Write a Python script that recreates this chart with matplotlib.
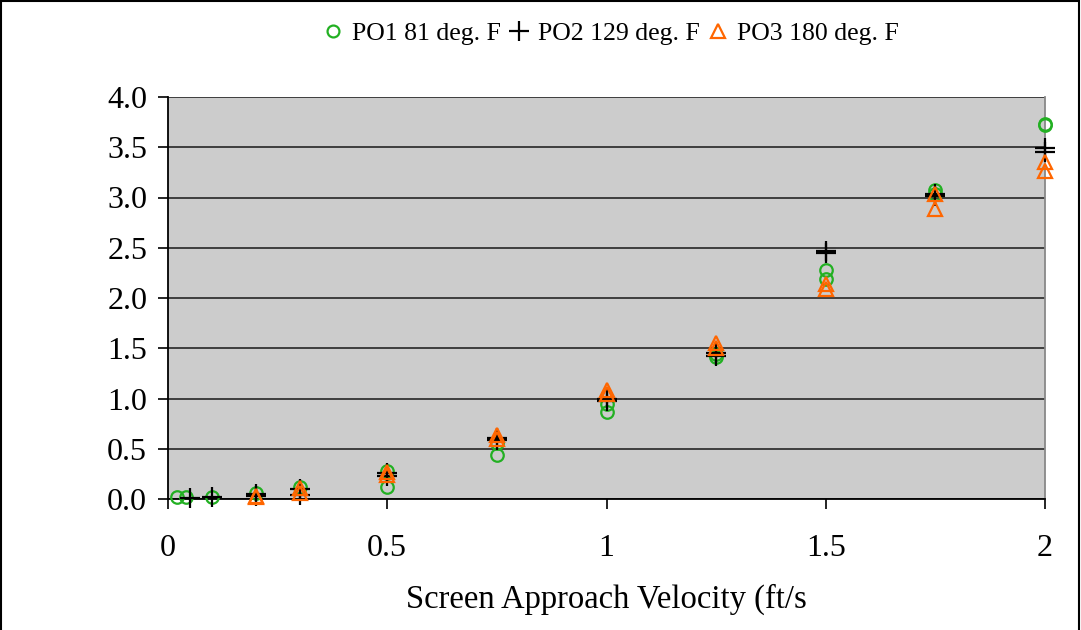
import matplotlib.pyplot as plt
from matplotlib.patches import Rectangle

# values (two replicates per velocity)
po1_x = [0.02, 0.04, 0.1, 0.2, 0.3, 0.5, 0.5, 0.75, 0.75, 1.0, 1.0, 1.25, 1.25, 1.5, 1.5, 1.75, 1.75, 2.0, 2.0]
po1_y = [0.02, 0.02, 0.02, 0.06, 0.12, 0.28, 0.12, 0.56, 0.44, 0.95, 0.87, 1.41, 1.44, 2.28, 2.19, 3.07, 3.03, 3.73, 3.72]

po2_x = [0.05, 0.1, 0.2, 0.2, 0.3, 0.3, 0.5, 0.5, 0.75, 0.75, 1.0, 1.0, 1.25, 1.25, 1.5, 1.5, 1.75, 1.75, 2.0, 2.0]
po2_y = [0.01, 0.02, 0.05, 0.03, 0.1, 0.04, 0.26, 0.23, 0.61, 0.59, 1.0, 0.98, 1.45, 1.42, 2.47, 2.45, 3.03, 3.01, 3.49, 3.45]

po3_x = [0.2, 0.2, 0.3, 0.3, 0.5, 0.5, 0.75, 0.75, 1.0, 1.0, 1.25, 1.25, 1.5, 1.5, 1.75, 1.75, 2.0, 2.0]
po3_y = [0.02, 0.03, 0.11, 0.06, 0.27, 0.24, 0.64, 0.6, 1.08, 1.04, 1.55, 1.5, 2.14, 2.09, 3.03, 2.89, 3.35, 3.26]

labels = ["PO1 81 deg. F", "PO2 129 deg. F", "PO3 180 deg. F"]

plt.rcParams['font.family'] = ['Liberation Serif', 'DejaVu Serif']

fig = plt.figure(figsize=(10.81, 6.30), dpi=100)
ax = fig.add_axes([168 / 1081, 1 - 499 / 630, (1045 - 168) / 1081, (499 - 97) / 630])
ax.set_facecolor('#CCCCCC')

ax.plot(po1_x, po1_y, 'o', ms=9, mfc='none', mec='#22B022', mew=1.6, label=labels[0], clip_on=False, zorder=3)
ax.plot(po2_x, po2_y, '+', ms=15, mec='black', mew=1.6, label=labels[1], clip_on=False, zorder=4)
ax.plot(po3_x, po3_y, '^', ms=10, mfc='none', mec='#FF6600', mew=1.6, label=labels[2], clip_on=False, zorder=5)

ax.set_xlim(0, 2)
ax.set_ylim(0, 4)
ax.set_xticks([0, 0.5, 1, 1.5, 2])
ax.set_xticklabels(['0', '0.5', '1', '1.5', '2'])
ax.set_yticks([0, 0.5, 1, 1.5, 2, 2.5, 3, 3.5, 4])
ax.set_yticklabels(['%.1f' % v for v in ax.get_yticks()])
ax.tick_params(labelsize=23, direction='out', length=7, width=1.2, color='black')
ax.tick_params(axis='x', pad=18)
ax.tick_params(axis='y', pad=8)
ax.yaxis.grid(True, color='#333333', lw=1.3)
ax.set_axisbelow(True)

ax.spines['left'].set_color('black')
ax.spines['bottom'].set_color('black')
ax.spines['left'].set_linewidth(1.3)
ax.spines['bottom'].set_linewidth(1.3)
ax.spines['right'].set_color('#888888')
ax.spines['right'].set_linewidth(1.3)
ax.spines['top'].set_visible(False)

ax.set_xlabel("Screen Approach Velocity (ft/s", fontsize=23.5, labelpad=15)

fig.legend(loc='center', bbox_to_anchor=(0.565, 1 - 34 / 630), ncol=3, frameon=False,
           fontsize=18.5, handlelength=0.8, handletextpad=0.35, columnspacing=0.3, markerscale=0.95)

# thin frame around the chart (bottom edge falls outside the image)
fig.patches.append(Rectangle((0.001, -0.05), 0.997, 1.048, transform=fig.transFigure,
                             fill=False, ec='black', lw=1.5))

fig.savefig('out.png', dpi=100)
